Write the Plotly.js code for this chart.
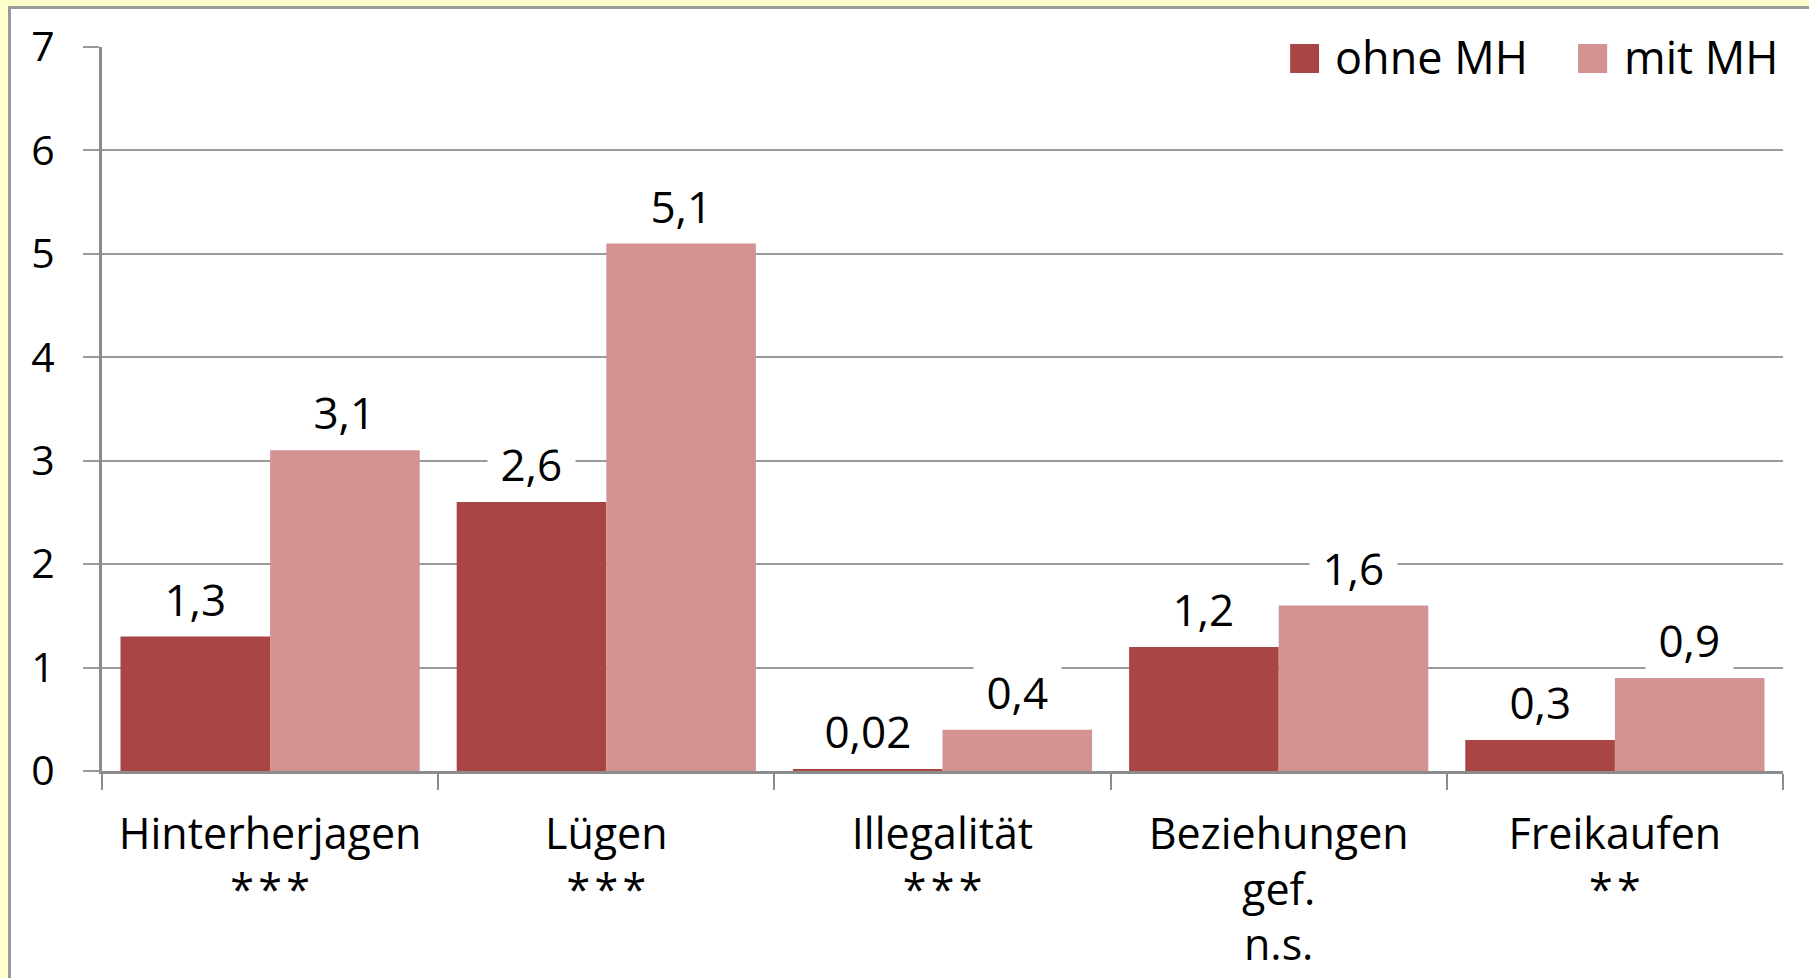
<!DOCTYPE html>
<html>
<head>
<meta charset="utf-8">
<script src="https://cdn.plot.ly/plotly-3.0.1.min.js"></script>
<style>
  html, body { margin: 0; padding: 0; background: #FFFFCC; width: 1809px; height: 978px; overflow: hidden; }
  #frame { position: absolute; left: 8px; top: 6px; width: 1801px; height: 972px;
           border-left: 3px solid #9a9a9a; border-top: 3px solid #9a9a9a; background: #fff; }
  #chart { width: 1798px; height: 969px; }
</style>
</head>
<body>
<div id="frame"><div id="chart"></div></div>
<script>
// ---- data ----
var categories = ['Hinterherjagen', 'Lügen', 'Illegalität', 'Beziehungen<br>gef.', 'Freikaufen'];
var significance = ['***', '***', '***', 'n.s.', '**'];
var seriesNames = ['ohne MH', 'mit MH'];
var ohneMH = [1.3, 2.6, 0.02, 1.2, 0.3];
var mitMH = [3.1, 5.1, 0.4, 1.6, 0.9];
var yTicks = [0, 1, 2, 3, 4, 5, 6, 7];

// ---- styles ----
var colors = ['#A94645', '#D39393'];
var FONT = '"Open Sans", "Noto Sans", sans-serif';
var BARGAP = 0.11;
var NB = '\u00a0';

function spaced(s) { return s.split('').join('\u200a'); }
var xLabels = categories.map(function (c, i) {
  var sig = significance[i].indexOf('*') === 0 ? spaced(significance[i]) : significance[i];
  return c + '<br>' + sig;
});
var series = [ohneMH, mitMH];

var traces = series.map(function (vals, s) {
  return {
    type: 'bar', name: seriesNames[s], x: xLabels, y: vals,
    marker: { color: colors[s], line: { width: 0 } },
    showlegend: false, hoverinfo: 'skip'
  };
});

function fmt(v) { return String(v).replace('.', ','); }

var annotations = [];
var half = (1 - BARGAP) / 4;
series.forEach(function (vals, s) {
  vals.forEach(function (v, i) {
    annotations.push({
      xref: 'x', yref: 'y', x: i + (s === 0 ? -half : half), y: v,
      text: NB + fmt(v) + NB, showarrow: false, xanchor: 'center', yanchor: 'bottom',
      yshift: 6, bgcolor: '#ffffff', borderpad: 1,
      font: { family: FONT, size: 44, color: '#000' }
    });
  });
});

// custom legend (big square symbols)
var legendPos = [
  { sx0: 0.7068, sx1: 0.7240, tx: 0.7330 },
  { sx0: 0.8781, sx1: 0.8954, tx: 0.9050 }
];
var shapes = [{
  type: 'rect', xref: 'paper', yref: 'paper', x0: 0.6747, x1: 1.01, y0: 0.934, y1: 1.026,
  fillcolor: '#ffffff', line: { width: 0 }, layer: 'above'
}];
seriesNames.forEach(function (n, s) {
  shapes.push({
    type: 'rect', xref: 'paper', yref: 'paper', x0: legendPos[s].sx0, x1: legendPos[s].sx1,
    y0: 0.9641, y1: 1.0041, fillcolor: colors[s], line: { width: 0 }, layer: 'above'
  });
  annotations.push({
    xref: 'paper', yref: 'paper', x: legendPos[s].tx, y: 0.9870, text: n,
    showarrow: false, xanchor: 'left', yanchor: 'middle', borderpad: 0,
    font: { family: FONT, size: 45, color: '#000' }
  });
});

var layout = {
  width: 1798, height: 969,
  margin: { l: 91, r: 26, t: 38, b: 207 },
  paper_bgcolor: '#ffffff', plot_bgcolor: '#ffffff',
  barmode: 'group', bargap: BARGAP, bargroupgap: 0,
  font: { family: FONT, size: 41, color: '#000' },
  xaxis: {
    type: 'category', showgrid: false, zeroline: false,
    showline: true, linecolor: '#8c8c8c', linewidth: 3,
    ticks: 'outside', tickson: 'boundaries', ticklen: 16, tickwidth: 2, tickcolor: '#8c8c8c',
    tickfont: { family: FONT, size: 43, color: '#000' },
    ticklabelstandoff: 23
  },
  yaxis: {
    range: [0, 7], tickvals: yTicks, ticktext: yTicks.map(String),
    showgrid: true, gridcolor: '#9a9a9a', gridwidth: 2, zeroline: false,
    showline: true, linecolor: '#8c8c8c', linewidth: 3,
    ticks: 'outside', ticklen: 16, tickwidth: 2, tickcolor: '#9a9a9a',
    tickfont: { family: FONT, size: 41, color: '#000' },
    ticklabelstandoff: 20
  },
  annotations: annotations,
  shapes: shapes,
  showlegend: false
};

Plotly.newPlot('chart', traces, layout, { staticPlot: true, displayModeBar: false });
</script>
</body>
</html>
